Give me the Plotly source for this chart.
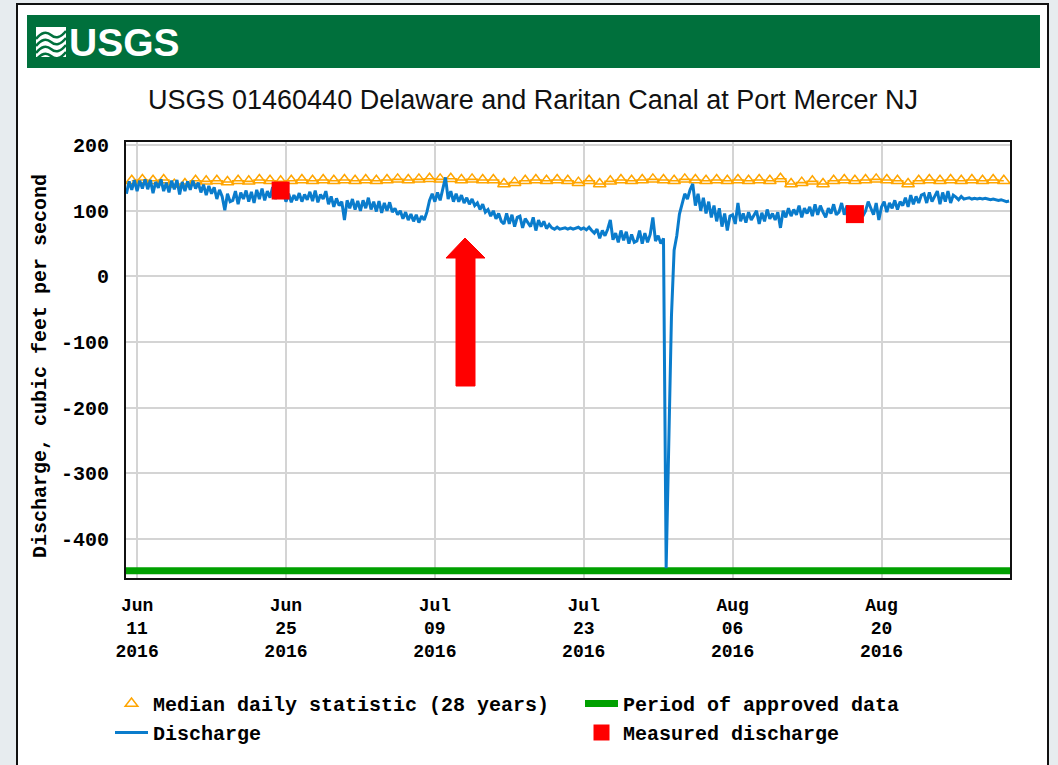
import pandas as pd
import plotly.graph_objects as go

# ---------------- data ----------------
# Instantaneous discharge, cfs, read every 6 hours from 2016-06-10 00:00
discharge_start = "2016-06-10 00:00"
discharge_cfs = [
    126, 145, 132, 147,   # Jun 10
    130, 146, 134, 148,   # Jun 11
    133, 147, 127, 144,   # Jun 12
    135, 148, 130, 143,   # Jun 13
    128, 146, 133, 147,   # Jun 14
    125, 144, 130, 145,   # Jun 15
    132, 146, 134, 143,   # Jun 16
    128, 140, 124, 138,   # Jun 17
    126, 136, 118, 132,   # Jun 18
    122, 101, 126, 114,   # Jun 19
    116, 130, 110, 128,   # Jun 20
    118, 131, 114, 129,   # Jun 21
    112, 132, 118, 134,   # Jun 22
    116, 130, 120, 136,   # Jun 23
    118, 133, 122, 130,   # Jun 24
    114, 126, 113, 124,   # Jun 25
    116, 127, 114, 125,   # Jun 26
    117, 129, 115, 131,   # Jun 27
    113, 125, 118, 130,   # Jun 28
    110, 122, 106, 119,   # Jun 29
    108, 114, 86, 116,    # Jun 30
    104, 118, 102, 115,   # Jul 1
    100, 116, 104, 120,   # Jul 2
    102, 114, 99, 115,    # Jul 3
    97, 112, 100, 113,    # Jul 4
    98, 104, 94, 100,     # Jul 5
    88, 98, 86, 95,       # Jul 6
    84, 94, 82, 92,       # Jul 7
    86, 98, 116, 126,     # Jul 8
    114, 128, 116, 136,   # Jul 9
    151, 118, 130, 114,   # Jul 10
    126, 114, 124, 112,   # Jul 11
    120, 110, 118, 108,   # Jul 12
    112, 102, 110, 98,    # Jul 13
    102, 92, 100, 88,     # Jul 14
    96, 84, 80, 96,       # Jul 15
    80, 94, 76, 90,       # Jul 16
    92, 74, 88, 82,       # Jul 17
    76, 90, 70, 86,       # Jul 18
    76, 84, 73, 79,       # Jul 19
    74, 72, 75, 72,       # Jul 20
    73, 74, 72, 74,       # Jul 21
    72, 73, 75, 72,       # Jul 22
    74, 71, 75, 70,       # Jul 23
    66, 72, 58, 70,       # Jul 24
    62, 72, 86, 56,       # Jul 25
    66, 52, 70, 55,       # Jul 26
    68, 50, 64, 52,       # Jul 27
    54, 70, 50, 66,       # Jul 28
    52, 64, 90, 54,       # Jul 29
    62, 50, 58, -445,     # Jul 30
    -260, -60, 40, 62,    # Jul 31
    95, 112, 126, 118,    # Aug 1
    132, 141, 108, 126,   # Aug 2
    100, 120, 96, 114,    # Aug 3
    90, 108, 84, 104,     # Aug 4
    76, 96, 70, 92,       # Aug 5
    94, 80, 112, 84,      # Aug 6
    96, 82, 98, 86,       # Aug 7
    92, 100, 80, 97,      # Aug 8
    84, 102, 88, 96,      # Aug 9
    86, 98, 74, 100,      # Aug 10
    90, 104, 92, 102,     # Aug 11
    94, 108, 90, 104,     # Aug 12
    96, 106, 92, 110,     # Aug 13
    94, 108, 98, 90,      # Aug 14
    104, 96, 110, 94,     # Aug 15
    98, 112, 94, 108,     # Aug 16
    96, 92, 106, 94,      # Aug 17
    102, 92, 100, 114,    # Aug 18
    104, 94, 112, 86,     # Aug 19
    106, 114, 98, 112,    # Aug 20
    104, 116, 102, 114,   # Aug 21
    108, 120, 106, 124,   # Aug 22
    110, 122, 112, 124,   # Aug 23
    126, 112, 128, 114,   # Aug 24
    122, 130, 110, 128,   # Aug 25
    114, 130, 112, 124,   # Aug 26
    121, 117, 122, 118,   # Aug 27
    119, 120, 118, 119,   # Aug 28
    118, 119, 118, 119,   # Aug 29
    118, 117, 118, 117,   # Aug 30
    116, 117, 115, 114,   # Aug 31
    115,                  # Sep 1 00:00
]

# Median daily statistic (28 years), one value per day at noon, Jun 10 .. Aug 31
median_start = "2016-06-10 12:00"
median_cfs = [
    146, 147, 146, 147, 140, 141, 146, 145, 146, 144, 146,          # Jun 10-20
    145, 147, 146, 145, 146, 147, 146, 147, 146, 147,               # Jun 21-30
    146, 147, 146, 147, 148, 147, 148, 149, 148, 149,               # Jul 1-10
    147, 148, 147, 147, 141, 143, 146, 147, 146, 147,               # Jul 11-20
    146, 143, 146, 141, 145, 147, 146, 147, 148, 147, 146,          # Jul 21-31
    148, 147, 146, 147, 146, 147, 146, 147, 146, 149,               # Aug 1-10
    141, 143, 145, 141, 146, 147, 146, 147, 148, 147,               # Aug 11-20
    146, 141, 146, 147, 146, 147, 146, 147, 146, 147, 146,          # Aug 21-31
]

# Field measurements
measured_dates = ["2016-06-24 12:00", "2016-08-17 12:00"]
measured_cfs = [131, 95]

# Period of approved data
approved_dates = ["2016-06-09 23:00", "2016-09-01 02:00"]
approved_level = [-449, -449]

x_tick_dates = ["2016-06-11", "2016-06-25", "2016-07-09", "2016-07-23", "2016-08-06", "2016-08-20"]
x_tick_text = ["Jun<br>11<br>2016", "Jun<br>25<br>2016", "Jul<br>09<br>2016",
               "Jul<br>23<br>2016", "Aug<br>06<br>2016", "Aug<br>20<br>2016"]
y_tick_vals = [-400, -300, -200, -100, 0, 100, 200]
y_tick_text = ["-400", "-300", "-200", "-100", "0", "100", "200"]

x_range = ["2016-06-09 23:00", "2016-09-01 02:00"]
y_range = [-460, 205]

title_text = "USGS 01460440 Delaware and Raritan Canal at Port Mercer NJ"
y_title = "Discharge, cubic feet per second"

# ---------------- layout helpers (pixel -> paper) ----------------
W, H = 1058, 765
L, R, T, B = 126, 1010, 142, 578


def PX(x):
    return (x - L) / (R - L)


def PY(y):
    return (B - y) / (B - T)


mono = dict(family="Liberation Mono, Courier New, monospace", size=20, color="#000000", weight="bold")

discharge_times = pd.date_range(discharge_start, periods=len(discharge_cfs), freq="6h")
median_times = pd.date_range(median_start, periods=len(median_cfs), freq="D")

fig = go.Figure()

fig.add_trace(go.Scatter(
    x=median_times, y=median_cfs, mode="lines", line=dict(color="#ffa500", width=1.6, shape="hvh"),
    showlegend=False, hoverinfo="skip"))
fig.add_trace(go.Scatter(
    x=median_times, y=median_cfs, mode="markers", name="Median daily statistic (28 years)",
    marker=dict(symbol="triangle-up-open", size=11, color="#ffa500", line=dict(width=1.5, color="#ffa500"))))
fig.add_trace(go.Scatter(
    x=approved_dates, y=approved_level, mode="lines", name="Period of approved data",
    line=dict(color="#00a000", width=7)))
fig.add_trace(go.Scatter(
    x=discharge_times, y=discharge_cfs, mode="lines", name="Discharge",
    line=dict(color="#0a7ccc", width=3)))
fig.add_trace(go.Scatter(
    x=measured_dates, y=measured_cfs, mode="markers", name="Measured discharge",
    marker=dict(symbol="square", size=18, color="#ff0000")))

shapes = [
    # white page panel with black frame
    dict(type="rect", xref="paper", yref="paper", x0=PX(17), x1=PX(1048), y0=PY(775), y1=PY(4),
         fillcolor="#ffffff", line=dict(color="#111111", width=2), layer="below"),
    # green USGS banner
    dict(type="rect", xref="paper", yref="paper", x0=PX(27), x1=PX(1040), y0=PY(68), y1=PY(15),
         fillcolor="#00703c", line=dict(width=0), layer="below"),
]

# USGS wave icon
icon_path = "M {} {} L {} {} L {} {} L {} {} Z".format(PX(36), PY(27), PX(66), PY(27), PX(66), PY(57), PX(36), PY(57))
shapes.append(dict(type="path", xref="paper", yref="paper", path=icon_path,
                   fillcolor="#ffffff", line=dict(width=0)))
for i in range(4):
    y0 = 33 + i * 7
    p = "M {} {} Q {} {} {} {} T {} {}".format(
        PX(36), PY(y0 + 6), PX(44), PY(y0 - 4), PX(51), PY(y0 + 2), PX(66), PY(y0 - 2))
    shapes.append(dict(type="path", xref="paper", yref="paper", path=p,
                       line=dict(color="#00703c", width=2.5)))

# red arrow
arrow_pts = [(456, 386), (475, 386), (475, 258), (485, 258), (465, 238), (446, 258), (456, 258)]
arrow_path = "M " + " L ".join("{} {}".format(PX(a), PY(b)) for a, b in arrow_pts) + " Z"
shapes.append(dict(type="path", xref="paper", yref="paper", path=arrow_path,
                   fillcolor="#ff0000", line=dict(color="#ff0000", width=1)))

annotations = [
    dict(text="USGS", xref="paper", yref="paper", x=PX(124), y=PY(42), xanchor="center", yanchor="middle",
         showarrow=False, font=dict(family="Liberation Sans Narrow, Arial Narrow, Liberation Sans", size=39,
                                    color="#ffffff", weight="bold")),
    dict(text=title_text, xref="paper", yref="paper", x=PX(533), y=PY(100), xanchor="center", yanchor="middle",
         showarrow=False, font=dict(family="Liberation Sans Narrow, Arial Narrow, Liberation Sans", size=27,
                                    color="#111111")),
    dict(text=y_title, xref="paper", yref="paper", x=PX(40), y=PY(366), xanchor="center", yanchor="middle",
         textangle=-90, showarrow=False, font=mono),
]

fig.update_layout(
    width=W, height=H,
    margin=dict(l=L, r=W - R, t=T, b=H - B, pad=0, autoexpand=False),
    paper_bgcolor="#e7ecef",
    plot_bgcolor="#ffffff",
    shapes=shapes,
    annotations=annotations,
    showlegend=True,
    legend=dict(orientation="h", x=PX(110), y=PY(684), xanchor="left", yanchor="top",
                entrywidth=422, entrywidthmode="pixels", font=mono, bgcolor="rgba(0,0,0,0)",
                traceorder="normal", itemwidth=33, tracegroupgap=0),
    xaxis=dict(type="date", range=x_range, tickvals=x_tick_dates, ticktext=x_tick_text,
               tickfont=dict(family=mono["family"], size=18, color="#000000", weight="bold"),
               showgrid=True, gridcolor="#d4d4d4", gridwidth=2, zeroline=False,
               showline=True, linecolor="#111111", linewidth=2, mirror=True,
               ticks="", ticklabelstandoff=9, automargin=False),
    yaxis=dict(range=y_range, tickvals=y_tick_vals, ticktext=y_tick_text, tickfont=mono,
               showgrid=True, gridcolor="#d4d4d4", gridwidth=2, zeroline=False,
               showline=True, linecolor="#111111", linewidth=2, mirror=True,
               ticks="", ticklabelstandoff=11, automargin=False),
)

fig.write_html("out.html", config={"displayModeBar": False},
               post_script="document.body.style.margin='0px';document.body.style.overflow='hidden';")
